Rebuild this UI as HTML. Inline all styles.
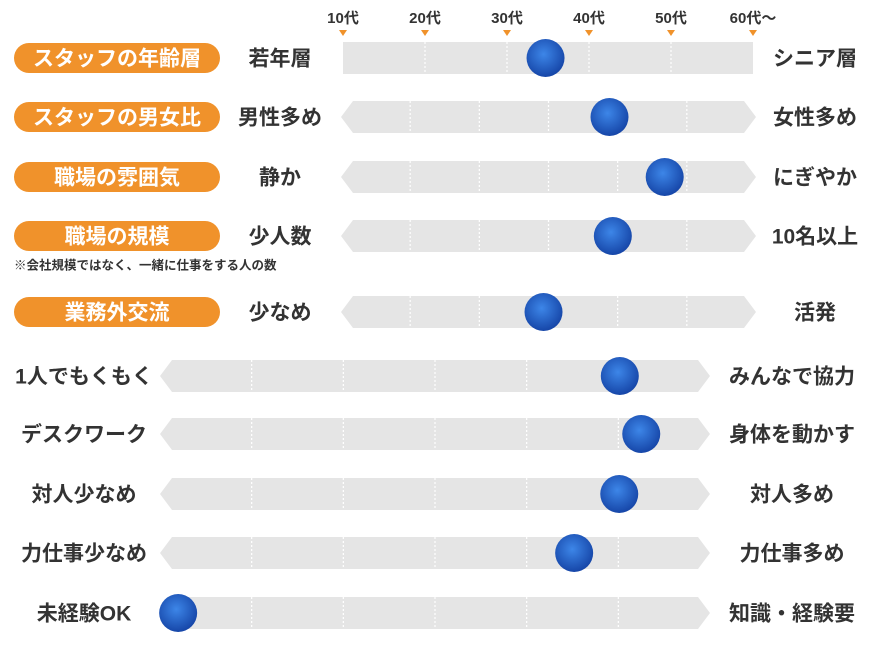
<!DOCTYPE html>
<html><head><meta charset="utf-8">
<style>
body{margin:0;background:#fff;width:885px;height:641px;overflow:hidden;font-family:"Liberation Sans","Noto Sans CJK JP",sans-serif;}
svg text{font-family:"Liberation Sans","Noto Sans CJK JP",sans-serif;font-weight:bold;}
</style></head><body>
<svg id="chart" width="885" height="641"></svg>
<script>
const ageTicks=["10代","20代","30代","40代","50代","60代〜"];
const topCats=["スタッフの年齢層","スタッフの男女比","職場の雰囲気","職場の規模","業務外交流"];
const topLeft=["若年層","男性多め","静か","少人数","少なめ"];
const topRight=["シニア層","女性多め","にぎやか","10名以上","活発"];
const topValues=[49.4,64.7,78.0,65.5,48.8];
const botLeft=["1人でもくもく","デスクワーク","対人少なめ","力仕事少なめ","未経験OK"];
const botRight=["みんなで協力","身体を動かす","対人多め","力仕事多め","知識・経験要"];
const botValues=[83.6,87.5,83.5,75.3,3.3];

const NS="http://www.w3.org/2000/svg";
const svg=document.getElementById('chart');
function el(t,a,p){const e=document.createElementNS(NS,t);for(const k in a)e.setAttribute(k,a[k]);(p||svg).appendChild(e);return e;}
const defs=el('defs',{});
const g=el('radialGradient',{id:'dot',cx:'45%',cy:'40%',r:'60%'},defs);
el('stop',{offset:'0%','stop-color':'#3d86e8'},g);
el('stop',{offset:'100%','stop-color':'#1646a8'},g);

const topY=[58,117,177,236,312];
const botY=[376,434,494,553,613];
const H=32;
function xTop(v){return 343+v/100*410;}
function xBot(v){return 160+v/100*550;}

// age ticks
ageTicks.forEach((t,i)=>{
  const x=343+i*82;
  const tx=el('text',{x:x,y:23,'text-anchor':'middle','font-size':15,fill:'#333'});
  tx.textContent=t;
  
  
  const tr=el('polygon',{points:`${x-4},30 ${x+4},30 ${x},36`,fill:'#f0922b'});
  
  
});

function bar(x0,x1,cy,arrows,segs){
  const t=cy-H/2,b=cy+H/2,c=12;
  let pts;
  if(arrows) pts=`${x0+c},${t} ${x1-c},${t} ${x1},${cy} ${x1-c},${b} ${x0+c},${b} ${x0},${cy}`;
  else pts=`${x0},${t} ${x1},${t} ${x1},${b} ${x0},${b}`;
  const p=el('polygon',{points:pts,fill:'#e5e5e5'});
  
  
  const w=(x1-x0)/segs;
  for(let i=1;i<segs;i++){
    const l=el('line',{x1:x0+i*w,x2:x0+i*w,y1:t,y2:b,stroke:'#fff','stroke-width':1.2,'stroke-dasharray':'2,2'});
    
    
  }
}
function dot(x,cy){
  const d=el('circle',{cx:x,cy:cy,r:19,fill:'url(#dot)'});
  
  
}
function label(txt,x,cy,anchor,size,fill,name){
  const t=el('text',{x:x,y:cy+size*0.36,'text-anchor':anchor,'font-size':size,fill:fill});
  t.textContent=txt;
  
  
}

topCats.forEach((c,i)=>{
  const cy=topY[i];
  const r=el('rect',{x:14,y:cy-15,width:206,height:30,rx:15,fill:'#f0922b'});
  
  
  label(c,117,cy,'middle',21,'#fff','category-label');
  label(topLeft[i],280,cy,'middle',21,'#333','left-label');
  label(topRight[i],815,cy,'middle',21,'#333','right-label');
  if(i===0){bar(343,753,cy,false,5);dot(xTop(topValues[i]),cy);}
  else{bar(341,756,cy,true,6);dot(341+topValues[i]/100*415,cy);}
});
label('※会社規模ではなく、一緒に仕事をする人の数',14,265,'start',12.5,'#333','footnote');

botLeft.forEach((c,i)=>{
  const cy=botY[i];
  label(c,84,cy,'middle',21,'#333','left-label');
  label(botRight[i],792,cy,'middle',21,'#333','right-label');
  bar(160,710,cy,true,6);
  dot(xBot(botValues[i]),cy);
});
</script>
</body></html>
